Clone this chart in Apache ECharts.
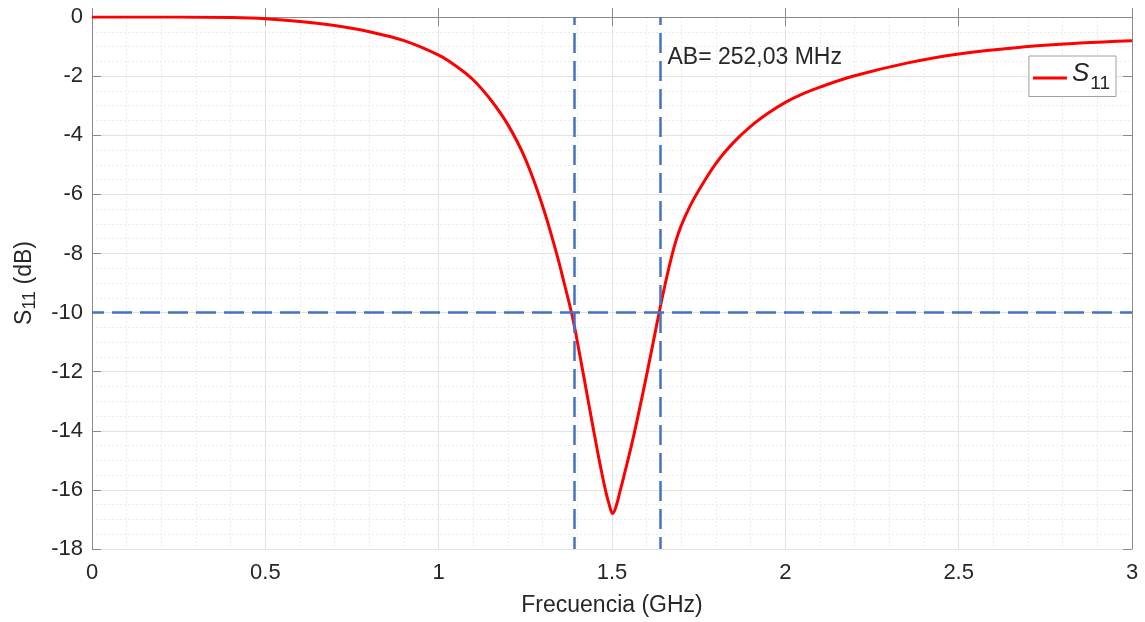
<!DOCTYPE html>
<html>
<head>
<meta charset="utf-8">
<script src="https://cdn.jsdelivr.net/npm/echarts@6/dist/echarts.min.js"></script>
<style>html,body{margin:0;padding:0;background:#fff;}#c{width:1145px;height:622px;}</style>
</head>
<body>
<div id="c"></div>
<script>
const freqGHz = [0, 0.25, 0.4, 0.5, 0.6, 0.7, 0.8, 0.9, 1.0, 1.05, 1.1, 1.15, 1.2, 1.25, 1.3, 1.34, 1.362, 1.385, 1.405, 1.43, 1.46, 1.48, 1.492, 1.502, 1.512, 1.522, 1.533, 1.562, 1.601, 1.636, 1.655, 1.67, 1.685, 1.7, 1.725, 1.75, 1.8, 1.85, 1.9, 1.95, 2.0, 2.05, 2.1, 2.2, 2.35, 2.5, 2.7, 2.85, 3.0];
const s11dB = [0, 0, -0.02, -0.06, -0.15, -0.29, -0.5, -0.8, -1.29, -1.66, -2.13, -2.8, -3.65, -4.8, -6.4, -8.0, -9.0, -10.1, -11.3, -12.9, -14.8, -15.95, -16.5, -16.8, -16.55, -16.1, -15.6, -14.2, -12.05, -10.0, -8.95, -8.2, -7.55, -7.05, -6.4, -5.87, -4.95, -4.25, -3.7, -3.26, -2.89, -2.6, -2.37, -1.99, -1.56, -1.25, -1.0, -0.88, -0.8];
const cutoffFreqs = [1.385, 1.636];
const thresholdDB = -10;
const annotationText = 'AB= 252,03 MHz';
const annotationPos = [1.66, -1.38];

const fontFam = '"Liberation Sans", Arial, sans-serif';
const axisCol = '#8a8a8a';
const txtCol = '#262626';

const chart = echarts.init(document.getElementById('c'));
const common = {min: 0, max: 3, interval: 0.5};
chart.setOption({
  animation: false,
  backgroundColor: '#fff',
  grid: {left: 92, right: 13, top: 17, bottom: 73, containLabel: false},
  legend: {
    right: 29, top: 56,
    backgroundColor: '#fff', borderColor: '#a0a0a0', borderWidth: 1,
    padding: [5, 6, 3, 4],
    icon: 'rect', itemWidth: 34, itemHeight: 3, itemGap: 4,
    data: ['S11'],
    formatter: () => '{s|S}{sub|11}',
    textStyle: {
      fontFamily: fontFam, color: txtCol,
      rich: {
        s: {fontSize: 26, fontStyle: 'italic', fontFamily: fontFam, color: txtCol, padding: [0, 1, 8, 0]},
        sub: {fontSize: 19, fontFamily: fontFam, color: txtCol, padding: [12, 0, 0, 0]}
      }
    }
  },
  xAxis: [{
    type: 'value', ...common, position: 'bottom',
    name: 'Frecuencia (GHz)', nameLocation: 'middle', nameGap: 45,
    nameTextStyle: {fontFamily: fontFam, fontSize: 23, color: txtCol},
    axisLine: {show: true, lineStyle: {color: axisCol, width: 1}},
    axisTick: {show: true, inside: true, length: 9, lineStyle: {color: axisCol}},
    axisLabel: {fontFamily: fontFam, fontSize: 22, color: txtCol, margin: 13, formatter: v => String(v)},
    splitLine: {show: true, lineStyle: {color: '#e3e3e3', width: 1}},
    minorTick: {show: true, splitNumber: 5, length: 0},
    minorSplitLine: {show: true, lineStyle: {color: '#ececec', width: 1, type: [2, 2]}}
  }, {
    type: 'value', ...common, position: 'top',
    axisLine: {show: true, onZero: false, lineStyle: {color: axisCol, width: 1}},
    axisTick: {show: true, inside: true, length: 9, lineStyle: {color: axisCol}},
    axisLabel: {show: false}, splitLine: {show: false}
  }],
  yAxis: [{
    type: 'value', min: -18, max: 0, interval: 2, position: 'left',
    name: '{s|S}{sub|11}{s| (dB)}', nameLocation: 'middle', nameGap: 56, nameRotate: 90,
    nameTextStyle: {
      fontFamily: fontFam, color: txtCol,
      rich: {
        s: {fontSize: 23, fontFamily: fontFam, color: txtCol},
        sub: {fontSize: 18, fontFamily: fontFam, color: txtCol, padding: [0, 0, -12, 0]}
      }
    },
    axisLine: {show: true, onZero: false, lineStyle: {color: axisCol, width: 1}},
    axisTick: {show: true, inside: true, length: 9, lineStyle: {color: axisCol}},
    axisLabel: {fontFamily: fontFam, fontSize: 22, color: txtCol, margin: 9},
    splitLine: {show: true, lineStyle: {color: '#e3e3e3', width: 1}},
    minorTick: {show: true, splitNumber: 4, length: 0},
    minorSplitLine: {show: true, lineStyle: {color: '#ececec', width: 1, type: [2, 2]}}
  }, {
    type: 'value', min: -18, max: 0, interval: 2, position: 'right',
    axisLine: {show: true, onZero: false, lineStyle: {color: axisCol, width: 1}},
    axisTick: {show: true, inside: true, length: 9, lineStyle: {color: axisCol}},
    axisLabel: {show: false}, splitLine: {show: false}
  }],
  series: [{
    name: 'S11', type: 'line', xAxisIndex: 0, yAxisIndex: 0,
    data: freqGHz.map((f, i) => [f, s11dB[i]]),
    smooth: 0.4, showSymbol: false, symbol: 'none',
    lineStyle: {color: '#ff0000', width: 3}, itemStyle: {color: '#ff0000'},
    z: 3,
    markLine: {
      silent: true, symbol: 'none', animation: false,
      lineStyle: {color: '#4472c4', width: 2.5, type: [20, 8], dashOffset: 8},
      label: {show: false},
      data: [
        ...cutoffFreqs.map(f => ({xAxis: f})),
        {yAxis: thresholdDB}
      ]
    }
  }]
});
const p = chart.convertToPixel({xAxisIndex: 0, yAxisIndex: 0}, annotationPos);
chart.setOption({
  graphic: [{
    type: 'text', x: p[0], y: p[1],
    style: {text: annotationText, font: '23px ' + fontFam, fill: txtCol, verticalAlign: 'middle'}
  }]
});
</script>
</body>
</html>
